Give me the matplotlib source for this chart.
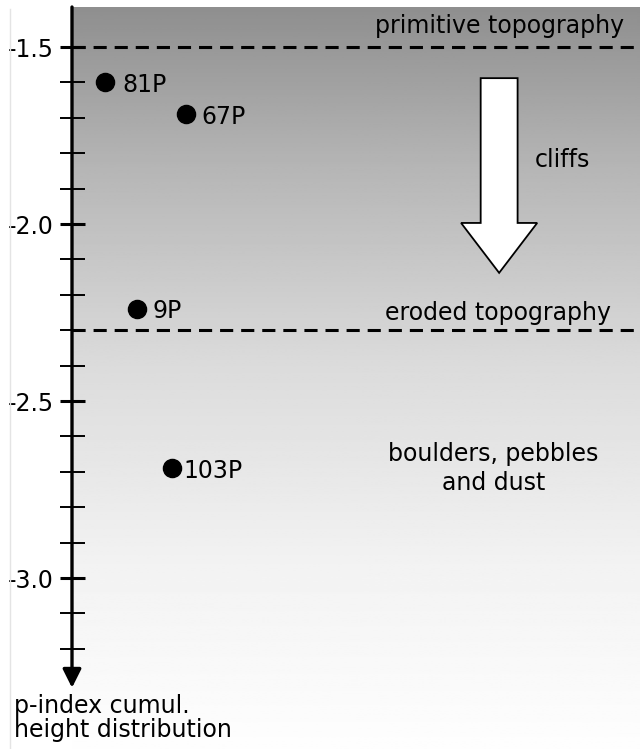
import numpy as np
import matplotlib
matplotlib.use("Agg")
import matplotlib.pyplot as plt
from matplotlib.lines import Line2D
from matplotlib.patches import FancyArrow

plt.rcParams['font.family'] = 'DejaVu Sans'
plt.rcParams['axes.unicode_minus'] = False

# data
comets = ['81P', '67P', '9P', '103P']
p_index = [-1.60, -1.69, -2.24, -2.69]
x_pos = [0.058, 0.200, 0.115, 0.176]
label_dx = [0.030, 0.027, 0.027, 0.020]

thresholds = [-1.5, -2.3]
major_ticks = [-1.5, -2.0, -2.5, -3.0]
minor_ticks = [-1.6, -1.7, -1.8, -1.9, -2.1, -2.2, -2.3, -2.4,
               -2.6, -2.7, -2.8, -2.9, -3.1, -3.2]

y_top, y_bot = -1.387, -3.483
FS = 17

fig = plt.figure(figsize=(6.4, 7.49), dpi=100)
ax = fig.add_axes([72 / 640, 0, 1 - 72 / 640, 742 / 749])
ax.set_xlim(0, 1)
ax.set_ylim(y_bot, y_top)

# grey background gradient (dark at top -> white at bottom)
stops_y = [y_top, -1.833, -2.398, -2.963, y_bot]
stops_v = [0.56, 0.71, 0.86, 0.95, 0.995]
yy = np.linspace(y_top, y_bot, 400)
grad = np.interp(-yy, [-s for s in stops_y], stops_v)
ax.imshow(grad[:, None], extent=[0, 1, y_bot, y_top], aspect='auto',
          cmap='gray', vmin=0, vmax=1, zorder=0)

for s in ax.spines.values():
    s.set_visible(False)
ax.set_xticks([])
ax.set_yticks(major_ticks)
ax.set_yticklabels([f"{t:.1f}" for t in major_ticks])
ax.set_yticks(minor_ticks, minor=True)
ax.tick_params(axis='y', which='major', direction='inout', length=18,
               width=2.2, labelsize=FS, pad=4)
ax.tick_params(axis='y', which='minor', direction='inout', length=18,
               width=1.4)

# vertical axis with arrow head
ax.annotate('', xy=(0, -3.31), xytext=(0, y_top),
            arrowprops=dict(arrowstyle='-|>', lw=2.4, color='black',
                            mutation_scale=28, shrinkA=0, shrinkB=0),
            annotation_clip=False, zorder=5)

for t in thresholds:
    ax.axhline(t, color='black', lw=2.2, dashes=(4.3, 2.6), zorder=3)

ax.scatter(x_pos, p_index, s=170, color='black', zorder=4, clip_on=False)
for name, x, y, dx in zip(comets, x_pos, p_index, label_dx):
    ax.text(x + dx, y, name, fontsize=FS, va='center_baseline', ha='left')

# white "cliffs" arrow
ax.add_patch(FancyArrow(0.752, -1.588, 0, -0.55, width=0.065,
                        head_width=0.134, head_length=0.141,
                        length_includes_head=True, fc='white', ec='black',
                        lw=1.3, zorder=3))

ax.text(0.752, -1.44, 'primitive topography', fontsize=FS, ha='center', va='center')
ax.text(0.864, -1.82, 'cliffs', fontsize=FS, ha='center', va='center')
ax.text(0.750, -2.25, 'eroded topography', fontsize=FS, ha='center', va='center')
ax.text(0.742, -2.69, 'boulders, pebbles\nand dust', fontsize=FS,
        ha='center', va='center', linespacing=1.25)

fig.text(14 / 640, 1 - 718 / 749, 'p-index cumul.\nheight distribution',
         fontsize=FS, ha='left', va='center', linespacing=1.0)

fig.add_artist(Line2D([10 / 640, 10 / 640], [0, 1 - 9 / 749],
                      transform=fig.transFigure, color='#e4e4e4', lw=1))

fig.savefig('out.png', dpi=100)
